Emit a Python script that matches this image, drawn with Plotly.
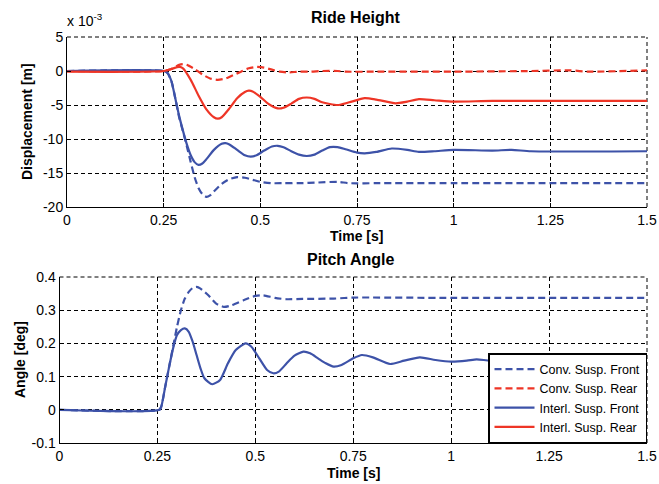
import plotly.graph_objects as go

BLUE = "#3D52A8"
RED = "#EE3526"

# ---- Ride Height (values in 1e-3 m) ----
t_conv_front = [0, 0.25, 0.26, 0.27, 0.28, 0.29, 0.30, 0.31, 0.32, 0.33, 0.34, 0.35, 0.36, 0.37, 0.38,
                0.40, 0.42, 0.44, 0.46, 0.48, 0.50, 0.53, 0.56, 0.60, 0.65, 0.70, 0.73, 0.80, 1.0, 1.25, 1.5]
z_conv_front = [0, 0, -0.3, -1.5, -4.0, -6.8, -8.9, -11.1, -13.4, -15.6, -17.2, -18.1, -18.5, -18.3, -17.7,
                -16.6, -15.9, -15.6, -15.7, -16.0, -16.3, -16.5, -16.5, -16.5, -16.4, -16.3, -16.5, -16.5, -16.5, -16.5, -16.5]

t_conv_rear = [0, 0.25, 0.27, 0.29, 0.30, 0.31, 0.33, 0.35, 0.37, 0.39, 0.41, 0.43, 0.45, 0.47, 0.49, 0.51,
               0.53, 0.55, 0.57, 0.60, 0.63, 0.66, 0.70, 0.72, 0.80, 1.0, 1.2, 1.3, 1.35, 1.5]
z_conv_rear = [0, 0, 0.3, 0.9, 1.0, 0.9, 0.3, -0.5, -1.1, -1.3, -1.1, -0.6, -0.1, 0.4, 0.6, 0.5,
               0.2, -0.1, -0.2, -0.1, -0.1, 0.0, 0.0, -0.1, -0.1, -0.1, 0.0, 0.1, -0.1, 0.1]

t_int_front = [0, 0.25, 0.26, 0.27, 0.28, 0.29, 0.30, 0.31, 0.32, 0.33, 0.34, 0.35, 0.36, 0.38, 0.40, 0.41,
               0.42, 0.44, 0.46, 0.475, 0.49, 0.51, 0.53, 0.545, 0.56, 0.58, 0.60, 0.62, 0.64, 0.66, 0.68,
               0.70, 0.72, 0.75, 0.77, 0.80, 0.84, 0.88, 0.91, 0.95, 1.0, 1.1, 1.15, 1.2, 1.5]
z_int_front = [0, 0, -0.3, -1.5, -4.0, -6.6, -8.8, -10.8, -12.4, -13.4, -13.8, -13.6, -13.0, -11.6, -10.7, -10.6,
               -10.8, -11.6, -12.4, -12.6, -12.4, -11.7, -11.1, -11.0, -11.2, -11.8, -12.3, -12.5, -12.3, -11.7, -11.2,
               -11.2, -11.5, -12.0, -12.1, -11.9, -11.4, -11.6, -11.9, -11.8, -11.6, -11.7, -11.6, -11.8, -11.8]

t_int_rear = [0, 0.25, 0.27, 0.29, 0.30, 0.32, 0.34, 0.36, 0.38, 0.39, 0.40, 0.42, 0.44, 0.46, 0.47, 0.48,
              0.50, 0.52, 0.545, 0.56, 0.58, 0.60, 0.62, 0.64, 0.66, 0.70, 0.73, 0.77, 0.80, 0.85, 0.88,
              0.91, 0.95, 1.0, 1.1, 1.5]
z_int_rear = [-0.1, 0, 0.3, 0.6, 0.4, -1.3, -3.6, -5.6, -6.8, -7.0, -6.8, -5.5, -4.0, -3.1, -2.9, -3.0,
              -3.8, -4.8, -5.5, -5.4, -4.8, -4.1, -3.9, -4.1, -4.6, -5.0, -4.6, -4.0, -4.2, -4.75, -4.5,
              -4.15, -4.3, -4.5, -4.4, -4.4]

# ---- Pitch Angle (deg) ----
t_pitch_conv = [0, 0.255, 0.26, 0.27, 0.28, 0.29, 0.30, 0.31, 0.32, 0.33, 0.34, 0.35, 0.36, 0.38, 0.40,
                0.42, 0.44, 0.47, 0.50, 0.52, 0.55, 0.58, 0.62, 0.70, 0.75, 1.0, 1.5]
a_pitch_conv = [0, 0, 0.01, 0.07, 0.13, 0.19, 0.25, 0.30, 0.335, 0.355, 0.367, 0.37, 0.365, 0.345, 0.32,
                0.31, 0.315, 0.33, 0.343, 0.345, 0.337, 0.333, 0.334, 0.335, 0.338, 0.337, 0.337]

t_pitch_int = [0, 0.255, 0.26, 0.27, 0.28, 0.29, 0.30, 0.31, 0.32, 0.33, 0.34, 0.35, 0.36, 0.37, 0.39,
               0.41, 0.43, 0.45, 0.475, 0.49, 0.51, 0.53, 0.546, 0.56, 0.58, 0.60, 0.623, 0.64, 0.66,
               0.68, 0.70, 0.72, 0.75, 0.772, 0.80, 0.844, 0.88, 0.92, 0.96, 1.0, 1.04, 1.065, 1.1, 1.2, 1.3, 1.5]
a_pitch_int = [0, 0, 0.01, 0.07, 0.13, 0.185, 0.225, 0.24, 0.245, 0.235, 0.205, 0.165, 0.125, 0.095, 0.077,
               0.09, 0.14, 0.18, 0.2, 0.19, 0.155, 0.12, 0.11, 0.115, 0.14, 0.163, 0.175, 0.17, 0.155,
               0.14, 0.13, 0.135, 0.155, 0.165, 0.158, 0.138, 0.148, 0.158, 0.15, 0.145, 0.148, 0.152, 0.148, 0.149, 0.148, 0.148]

x_ticks = [0, 0.25, 0.5, 0.75, 1, 1.25, 1.5]
x_tick_text = ["0", "0.25", "0.5", "0.75", "1", "1.25", "1.5"]
y1_ticks = [-20, -15, -10, -5, 0, 5]
y1_tick_text = ["-20", "-15", "-10", "-5", "0", "5"]
y2_ticks = [-0.1, 0, 0.1, 0.2, 0.3, 0.4]
y2_tick_text = ["-0.1", "0", "0.1", "0.2", "0.3", "0.4"]

FONT = "Liberation Sans"
W, H = 659, 484
LW = 2.2
DASH = "7px,4px"
GRID_DASH = "4px,3px"

fig = go.Figure()

def add(x, y, color, dash, name, xa, ya, show):
    fig.add_trace(go.Scatter(x=x, y=y, mode="lines", name=name, xaxis=xa, yaxis=ya,
                             showlegend=show, line=dict(color=color, width=LW, dash=dash, shape="spline", smoothing=0.6)))

# legend order: Conv Front, Conv Rear, Interl Front, Interl Rear
add(t_conv_front, z_conv_front, BLUE, DASH, "Conv. Susp. Front", "x", "y", True)
add(t_conv_rear, z_conv_rear, RED, DASH, "Conv. Susp. Rear", "x", "y", True)
add(t_int_front, z_int_front, BLUE, "solid", "Interl. Susp. Front", "x", "y", True)
add(t_int_rear, z_int_rear, RED, "solid", "Interl. Susp. Rear", "x", "y", True)
add(t_pitch_conv, a_pitch_conv, BLUE, DASH, "Conv. Susp. Front", "x2", "y2", False)
add(t_pitch_int, a_pitch_int, BLUE, "solid", "Interl. Susp. Front", "x2", "y2", False)

def px_x(p):
    return p / W

def px_y(p):
    return 1 - p / H

axis_common = dict(showline=True, linecolor="black", linewidth=1, mirror=False, automargin=False,
                   ticks="inside", ticklen=4, tickcolor="black",
                   showgrid=True, gridcolor="black", gridwidth=1, griddash=GRID_DASH,
                   zeroline=False, tickfont=dict(family=FONT, size=14, color="black"))

fig.update_layout(
    width=W, height=H, margin=dict(l=0, r=0, t=0, b=0, autoexpand=False),
    paper_bgcolor="white", plot_bgcolor="white",
    font=dict(family=FONT, color="black"),
    xaxis=dict(domain=[px_x(67), px_x(647)], range=[0, 1.5], tickvals=x_ticks, ticktext=x_tick_text,
               anchor="y", **axis_common),
    yaxis=dict(domain=[px_y(207), px_y(37)], range=[-20, 5], tickvals=y1_ticks, ticktext=y1_tick_text,
               anchor="x", **axis_common),
    xaxis2=dict(domain=[px_x(59.5), px_x(647)], range=[0, 1.5], tickvals=x_ticks, ticktext=x_tick_text,
                anchor="y2", **axis_common),
    yaxis2=dict(domain=[px_y(443), px_y(277)], range=[-0.1, 0.4], tickvals=y2_ticks, ticktext=y2_tick_text,
                anchor="x2", **axis_common),
    legend=dict(x=px_x(647), y=px_y(443), xanchor="right", yanchor="bottom",
                bgcolor="white", bordercolor="black", borderwidth=1.5, itemwidth=40,
                font=dict(family=FONT, size=12.5, color="black"), tracegroupgap=0),
)

# dashed grid lines on the top and right edges (as in the reference)
for xr, yr in (("x", "y"), ("x2", "y2")):
    fig.add_shape(type="line", xref=f"{xr} domain", yref=f"{yr} domain", x0=0, x1=1, y0=1, y1=1,
                  line=dict(color="black", width=1, dash=GRID_DASH), layer="below")
    fig.add_shape(type="line", xref=f"{xr} domain", yref=f"{yr} domain", x0=1, x1=1, y0=0, y1=1,
                  line=dict(color="black", width=1, dash=GRID_DASH), layer="below")

ann = [
    dict(text="<b>Ride Height</b>", x=px_x(356), y=px_y(18), size=16, angle=0),
    dict(text="<b>Pitch Angle</b>", x=px_x(351), y=px_y(259), size=16, angle=0),
    dict(text="<b>Time [s]</b>", x=px_x(357), y=px_y(236), size=14, angle=0),
    dict(text="<b>Time [s]</b>", x=px_x(353), y=px_y(473), size=14, angle=0),
    dict(text="<b>Displacement [m]</b>", x=px_x(27), y=px_y(122), size=14, angle=-90),
    dict(text="<b>Angle [deg]</b>", x=px_x(20), y=px_y(360), size=14, angle=-90),
]
for a in ann:
    fig.add_annotation(text=a["text"], x=a["x"], y=a["y"], xref="paper", yref="paper",
                       xanchor="center", yanchor="middle", showarrow=False, textangle=a["angle"],
                       font=dict(family=FONT, size=a["size"], color="black"))
fig.add_annotation(text="x 10<sup>-3</sup>", x=px_x(65), y=px_y(20), xref="paper", yref="paper",
                   xanchor="left", yanchor="middle", showarrow=False,
                   font=dict(family=FONT, size=14, color="black"))

fig.write_html("out.html", config={"displayModeBar": False, "staticPlot": True},
               post_script="document.body.style.margin='0';document.body.style.padding='0';"
                           "document.documentElement.style.overflow='hidden';")
